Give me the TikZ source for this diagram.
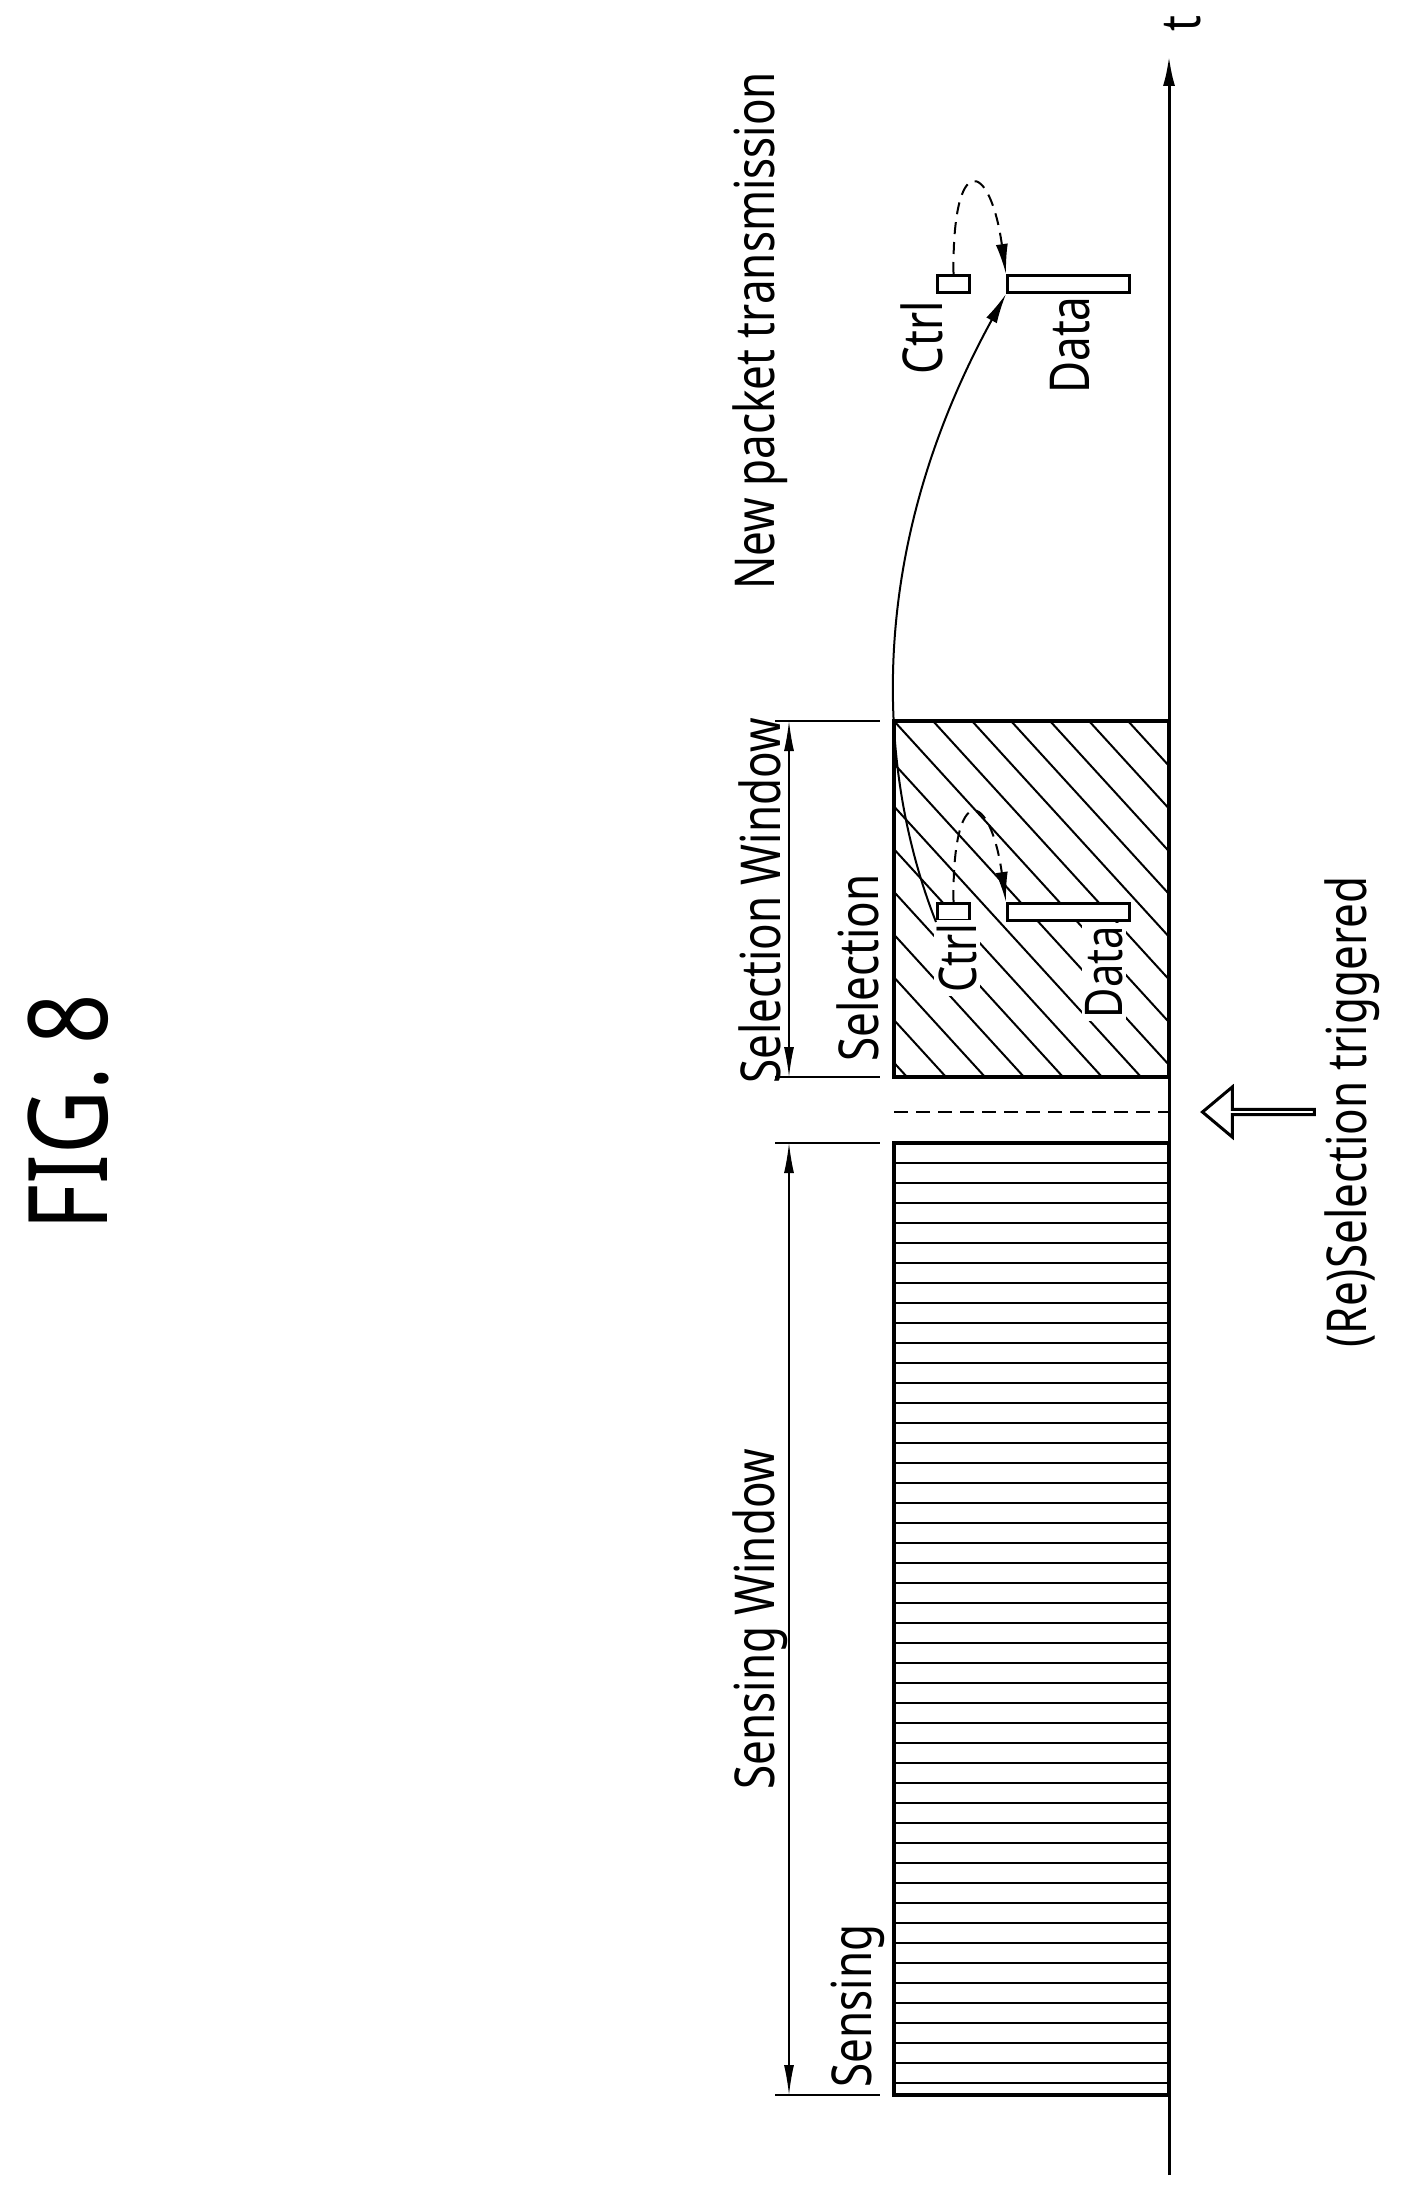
\documentclass[tikz,border=0pt]{standalone}
\usepackage{fontspec}
\setmainfont{Noto Sans}[FakeStretch=0.8]
\usetikzlibrary{arrows.meta,shapes.arrows}
\begin{document}
\begin{tikzpicture}[x=1pt,y=-1pt,
  thick/.style={line width=4pt},
  thin/.style={line width=2pt},
  lbl/.style={rotate=90,inner sep=2pt,font=\fontsize{55}{60}\selectfont},
  slbl/.style={rotate=90,inner sep=3pt,fill=white,font=\fontsize{52}{55}\selectfont},
  arr/.style={-{Latex[length=30pt,width=12pt]}},
  pk/.style={draw,line width=3pt,fill=white,inner sep=0pt}]
\useasboundingbox (0,0) rectangle (1408,2197);
% FIG
\node[rotate=90,font=\fontsize{110}{120}\selectfont] (fig) at (68,1112) {FIG. 8};
% axis
\coordinate (ab) at (1169,2175);
\coordinate (at) at (1169,56);
\draw[line width=3pt,arr] (ab) -- (at);
\node[lbl] (t) at (1183,24) {t};
% sensing rectangle
\foreach \y in {1163,1183,...,2085} \draw[thin] (894,\y) -- (1169,\y);
\draw[thick] (894,1143) rectangle (1169,2095);
% selection rectangle with hatch
\begin{scope}
\clip (894,721) rectangle (1169,1077);
\foreach \k in {-8,...,9} \draw[thin] (894+\k*39,721) -- ++(420,460);
\end{scope}
\draw[thick] (894,721) rectangle (1169,1077);
% dashed
\draw[thin,dashed,dash pattern=on 14pt off 8pt] (894,1112) -- (1169,1112);
% dimension lines
\foreach \y in {721,1077,1143,2095} \draw[line width=1.5pt] (775,\y) -- (880,\y);
\draw[line width=1.5pt,{Latex[length=30pt,width=10pt]}-{Latex[length=30pt,width=10pt]}] (789,721) -- (789,1077);
\draw[line width=1.5pt,{Latex[length=30pt,width=10pt]}-{Latex[length=30pt,width=10pt]}] (789,1143) -- (789,2095);
\node[lbl] (selw) at (760,901) {Selection Window};
\node[lbl] (senw) at (760,1619) {Sensing Window};
\node[lbl] (sel) at (858,968) {Selection};
\node[lbl] (sen) at (858,2006) {Sensing};
\node[lbl] (npt) at (760,331) {New packet transmission};
% selection packets
\node[pk,minimum width=32pt,minimum height=17pt,anchor=north west] (c1) at (936,902) {};
\node[pk,minimum width=122pt,minimum height=17pt,anchor=north west] (d1) at (1006,902) {};
\node[slbl] (c1l) at (957,958) {Ctrl};
\node[slbl] (d1l) at (1104,972) {Data};
% new packets
\node[pk,minimum width=32pt,minimum height=17pt,anchor=north west] (c2) at (936,274) {};
\node[pk,minimum width=122pt,minimum height=17pt,anchor=north west] (d2) at (1006,274) {};
\node[lbl] (c2l) at (922,338) {Ctrl};
\node[lbl] (d2l) at (1070,345) {Data};
% arcs
\draw[line width=2pt,dashed,dash pattern=on 12pt off 8pt,arr] (c1.north) .. controls (952,780) and (990,790) .. (d1.north west);
\draw[line width=2pt,dashed,dash pattern=on 12pt off 8pt,arr] (c2.north) .. controls (952,150) and (990,160) .. (d2.north west);
\draw[line width=2pt,arr] (c1.south west) .. controls (880,780) and (860,560) .. (d2.south west);
% re-selection arrow
\node[single arrow,draw,line width=3pt,shape border rotate=180,minimum height=112pt,minimum width=50pt,single arrow head extend=13pt,single arrow tip angle=80,inner sep=0pt] (ra) at (1260,1112) {};
\node[lbl] (rst) at (1352,1112) {(Re)Selection triggered};
\end{tikzpicture}
\end{document}
